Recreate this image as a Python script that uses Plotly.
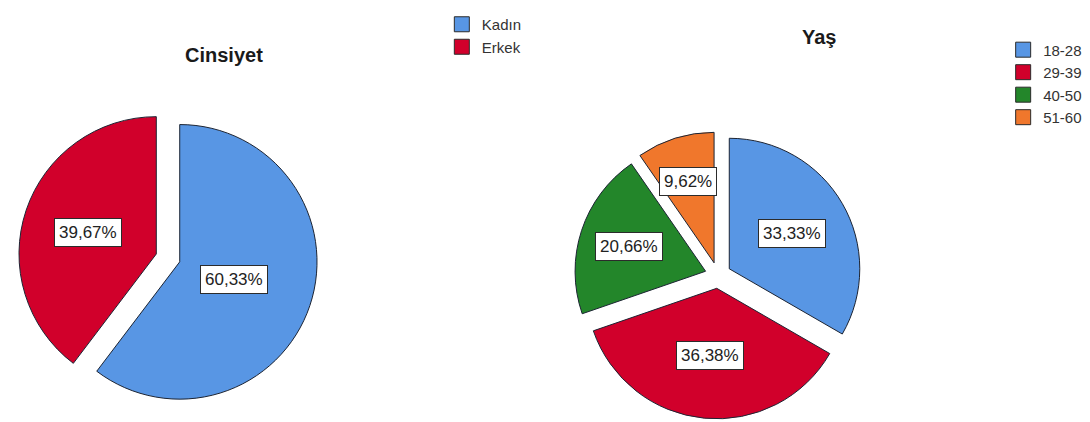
import numpy as np
import plotly.graph_objects as go

W, H = 1090, 422

cinsiyet_labels = ['Kadın', 'Erkek']
cinsiyet_pct = [60.33, 39.67]
cinsiyet_colors = ['#5896e4', '#d1002b']

yas_labels = ['18-28', '29-39', '40-50', '51-60']
yas_pct = [33.33, 36.38, 20.66, 9.62]
yas_colors = ['#5896e4', '#d1002b', '#23862a', '#f0772c']

FONT = 'Arial, Liberation Sans, sans-serif'

left_dom = dict(x=[0.0048, 0.2888], y=[0.055, 0.7886])
right_dom = dict(x=[0.5151, 0.7876], y=[0.0273, 0.731])
left_pull, right_pull = 0.09, 0.10


def pct_text(v):
    return f'{v:.2f}'.replace('.', ',') + '%'


def add_box_labels(fig, values, dom, pull):
    # white boxed labels like the SPSS output; small slices get their label further out
    cx = (dom['x'][0] + dom['x'][1]) / 2 * W
    cy = (1 - (dom['y'][0] + dom['y'][1]) / 2) * H
    r = min((dom['x'][1] - dom['x'][0]) * W, (dom['y'][1] - dom['y'][0]) * H) / 2 / (1 + pull)
    total = sum(values)
    start = 0
    for v in values:
        share = v / total
        mid = (start + v / 2) / total * 2 * np.pi
        start += v
        d = r * (pull + 0.7 - 0.5 * share)
        x = cx + d * np.sin(mid)
        y = cy - d * np.cos(mid)
        fig.add_annotation(x=x / W, y=1 - y / H, xref='paper', yref='paper',
                           xanchor='center', yanchor='middle',
                           text=pct_text(v), showarrow=False,
                           bgcolor='white', bordercolor='#2b2b2b', borderwidth=1, borderpad=4,
                           font=dict(family=FONT, size=17, color='#222'))


def add_legend_keys(fig, labels, colors, legend):
    # square swatches with a dark outline, bigger than the default pie legend keys
    for lab, col in zip(labels, colors):
        fig.add_trace(go.Scatter(
            x=[None], y=[None], mode='markers', name=lab, legend=legend,
            marker=dict(symbol='square', size=15, color=col, line=dict(color='#2b2b2b', width=1))))


fig = go.Figure()
fig.add_trace(go.Pie(
    labels=cinsiyet_labels, values=cinsiyet_pct, sort=False, direction='clockwise',
    pull=[left_pull] * len(cinsiyet_pct), domain=left_dom,
    marker=dict(colors=cinsiyet_colors, line=dict(color='#1c2433', width=1)),
    textinfo='none', hoverinfo='label+percent', showlegend=False))
fig.add_trace(go.Pie(
    labels=yas_labels, values=yas_pct, sort=False, direction='clockwise',
    pull=[right_pull] * len(yas_pct), domain=right_dom,
    marker=dict(colors=yas_colors, line=dict(color='#1c2433', width=1)),
    textinfo='none', hoverinfo='label+percent', showlegend=False))

add_legend_keys(fig, cinsiyet_labels, cinsiyet_colors, 'legend')
add_legend_keys(fig, yas_labels, yas_colors, 'legend2')

add_box_labels(fig, cinsiyet_pct, left_dom, left_pull)
add_box_labels(fig, yas_pct, right_dom, right_pull)

fig.add_annotation(x=216 / W, y=1 - 34 / H, xref='paper', yref='paper', text='<b>Cinsiyet</b>',
                   xanchor='center', yanchor='middle',
                   showarrow=False, font=dict(family=FONT, size=20, color='#1a1a1a'))
fig.add_annotation(x=811 / W, y=1 - 16 / H, xref='paper', yref='paper', text='<b>Yaş</b>',
                   xanchor='center', yanchor='middle',
                   showarrow=False, font=dict(family=FONT, size=20, color='#1a1a1a'))

fig.update_layout(
    width=W, height=H, margin=dict(l=0, r=0, t=0, b=0),
    paper_bgcolor='white', plot_bgcolor='white',
    font=dict(family=FONT, color='#333'),
    xaxis=dict(visible=False), yaxis=dict(visible=False),
    legend=dict(x=0.398, y=1.035, xanchor='left', yanchor='top', font=dict(size=15),
                bgcolor='rgba(0,0,0,0)', tracegroupgap=0),
    legend2=dict(x=0.913, y=0.972, xanchor='left', yanchor='top', font=dict(size=15),
                 bgcolor='rgba(0,0,0,0)', tracegroupgap=0),
)
fig.write_html('out.html')
